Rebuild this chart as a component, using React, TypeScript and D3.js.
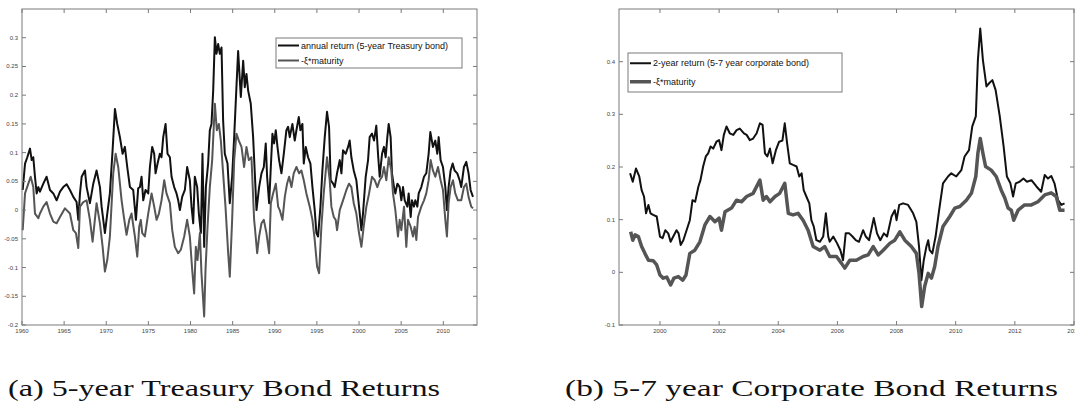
import React from 'react';
import * as d3 from 'd3';

// (a) 5-year Treasury bond, [year, value]
const tsyReturn: [number, number][] = [
  [1960.08, 0.035], [1960.36, 0.081], [1960.63, 0.092], [1960.95, 0.107], [1961.15, 0.087], [1961.34, 0.092],
  [1961.54, 0.058], [1961.74, 0.029], [1961.94, 0.04], [1962.13, 0.032], [1962.53, 0.046], [1962.92, 0.058],
  [1963.32, 0.035], [1963.72, 0.029], [1964.11, 0.017], [1964.51, 0.032], [1964.9, 0.04], [1965.3, 0.045],
  [1965.69, 0.035], [1966.09, 0.023], [1966.48, 0.014], [1966.68, -0.017], [1966.88, 0.029], [1967.08, 0.058],
  [1967.47, 0.069], [1967.67, 0.04], [1968.06, 0.012], [1968.46, 0.046], [1968.85, 0.069], [1969.25, 0.04],
  [1969.45, 0.006], [1969.84, -0.04], [1970.12, -0.006], [1970.43, 0.029], [1970.75, 0.104], [1971.03, 0.176],
  [1971.3, 0.15], [1971.62, 0.127], [1971.94, 0.098], [1972.21, 0.11], [1972.49, 0.075], [1972.81, 0.04],
  [1973.2, 0.035], [1973.52, -0.017], [1973.79, 0.038], [1973.99, 0.04], [1974.19, 0.058], [1974.39, 0.017],
  [1974.66, 0.035], [1974.98, 0.029], [1975.18, 0.075], [1975.45, 0.11], [1975.69, 0.098], [1975.85, 0.064],
  [1976.09, 0.081], [1976.36, 0.098], [1976.56, 0.092], [1976.76, 0.127], [1977.04, 0.15], [1977.27, 0.098],
  [1977.55, 0.092], [1977.75, 0.058], [1978.06, 0.04], [1978.34, 0.029], [1978.54, 0.017], [1978.74, 0],
  [1979.01, 0.023], [1979.33, 0.035], [1979.6, 0.075], [1979.92, 0.052], [1980.12, 0.006], [1980.32, -0.023],
  [1980.51, 0.058], [1980.79, 0.04], [1980.99, -0.006], [1981.23, -0.04], [1981.42, 0.098], [1981.62, -0.064],
  [1981.82, 0.04], [1982.09, 0.081], [1982.29, 0.139], [1982.49, 0.15], [1982.69, 0.208], [1982.89, 0.301],
  [1983.08, 0.272], [1983.28, 0.289], [1983.48, 0.272], [1983.68, 0.283], [1983.87, 0.156], [1984.07, 0.098],
  [1984.39, 0.081], [1984.66, 0.012], [1984.94, 0.058], [1985.18, 0.127], [1985.45, 0.214], [1985.65, 0.277],
  [1985.97, 0.197], [1986.25, 0.26], [1986.44, 0.214], [1986.64, 0.237], [1986.84, 0.208], [1987.15, 0.185],
  [1987.43, 0.127], [1987.63, 0.064], [1987.83, 0], [1988.14, 0.04], [1988.42, 0.064], [1988.7, 0.075],
  [1988.93, 0.116], [1989.09, 0.058], [1989.33, 0.012], [1989.53, 0.075], [1989.72, 0.133], [1989.92, 0.116],
  [1990.12, 0.139], [1990.32, 0.11], [1990.51, 0.087], [1990.79, 0.064], [1991.07, 0.098], [1991.38, 0.139],
  [1991.58, 0.145], [1991.78, 0.127], [1992.09, 0.15], [1992.37, 0.121], [1992.57, 0.139], [1992.85, 0.162],
  [1993.04, 0.139], [1993.28, 0.15], [1993.44, 0.081], [1993.68, 0.11], [1993.95, 0.092], [1994.23, 0.081],
  [1994.47, 0.04], [1994.74, 0], [1994.94, -0.04], [1995.14, -0.046], [1995.42, 0.006], [1995.65, 0.069],
  [1995.93, 0.127], [1996.2, 0.171], [1996.44, 0.145], [1996.64, 0.052], [1996.92, 0.046], [1997.11, 0.04],
  [1997.39, 0.064], [1997.71, 0.087], [1997.91, 0.064], [1998.1, 0.104], [1998.42, 0.098], [1998.7, 0.11],
  [1998.89, 0.121], [1999.09, 0.092], [1999.37, 0.069], [1999.68, 0.052], [2000.0, 0.006], [2000.28, -0.035],
  [2000.47, -0.006], [2000.79, 0.058], [2001.07, 0.087], [2001.26, 0.127], [2001.54, 0.133], [2001.78, 0.121],
  [2002.05, 0.147], [2002.25, 0.098], [2002.45, 0.058], [2002.73, 0.098], [2002.96, 0.11], [2003.16, 0.092],
  [2003.36, 0.127], [2003.52, 0.15], [2003.75, 0.127], [2003.91, 0.064], [2004.15, 0.04], [2004.31, 0.029],
  [2004.55, 0.046], [2004.82, 0.04], [2005.02, 0.017], [2005.22, 0.04], [2005.42, 0.017], [2005.73, 0.006],
  [2005.89, 0.029], [2006.13, -0.012], [2006.28, 0.017], [2006.52, 0.006], [2006.68, 0.017], [2006.92, 0.006],
  [2007.08, 0.029], [2007.39, 0.04], [2007.71, 0.058], [2007.98, 0.064], [2008.26, 0.098], [2008.46, 0.136],
  [2008.77, 0.11], [2009.05, 0.121], [2009.29, 0.098], [2009.45, 0.127], [2009.68, 0.087], [2009.96, 0.075],
  [2010.24, 0.04], [2010.43, 0], [2010.63, 0.04], [2010.87, 0.069], [2011.11, 0.081], [2011.34, 0.069],
  [2011.66, 0.064], [2011.94, 0.052], [2012.13, 0.04], [2012.45, 0.075], [2012.73, 0.084], [2013.0, 0.064],
  [2013.24, 0.035], [2013.52, 0.023],
];

const tsyXi: [number, number][] = [
  [1960.08, -0.035], [1960.36, 0.029], [1960.75, 0.046], [1961.03, 0.058], [1961.34, 0.04], [1961.54, -0.006],
  [1961.94, -0.014], [1962.13, -0.006], [1962.53, 0.006], [1962.92, 0.014], [1963.32, -0.006], [1963.72, -0.02],
  [1964.11, -0.023], [1964.51, -0.012], [1965.1, 0.003], [1965.69, -0.006], [1966.09, -0.035], [1966.4, -0.04],
  [1966.68, -0.066], [1966.88, 0.006], [1967.27, 0.014], [1967.67, 0.017], [1968.06, -0.017], [1968.38, -0.055],
  [1968.85, 0.012], [1969.25, -0.023], [1969.57, -0.064], [1969.84, -0.107], [1970.12, -0.087], [1970.43, -0.046],
  [1970.83, 0.064], [1971.11, 0.098], [1971.42, 0.075], [1971.82, 0.017], [1972.09, -0.012], [1972.41, -0.043],
  [1972.73, -0.017], [1973.0, -0.006], [1973.4, -0.046], [1973.68, -0.081], [1973.91, -0.029], [1974.1, -0.017],
  [1974.27, -0.04], [1974.58, -0.046], [1974.98, -0.006], [1975.38, 0.029], [1975.69, 0.006], [1975.97, -0.017],
  [1976.25, -0.006], [1976.56, 0.017], [1976.88, 0.052], [1977.15, 0.029], [1977.55, 0.012], [1977.83, -0.035],
  [1978.14, -0.064], [1978.54, -0.075], [1978.85, -0.069], [1979.25, -0.046], [1979.6, -0.017], [1979.92, -0.046],
  [1980.2, -0.104], [1980.43, -0.145], [1980.63, -0.064], [1980.83, -0.087], [1981.11, -0.04], [1981.3, -0.11],
  [1981.62, -0.185], [1981.78, -0.104], [1982.02, -0.029], [1982.29, 0.04], [1982.57, 0.087], [1982.89, 0.185],
  [1983.12, 0.139], [1983.36, 0.15], [1983.6, 0.121], [1983.87, 0.064], [1984.15, 0.006], [1984.47, -0.075],
  [1984.66, -0.116], [1984.94, -0.017], [1985.18, 0.087], [1985.45, 0.133], [1985.73, 0.121], [1986.05, 0.11],
  [1986.36, 0.075], [1986.64, 0.11], [1986.92, 0.087], [1987.23, 0.092], [1987.55, -0.017], [1987.63, -0.029],
  [1987.91, -0.075], [1988.14, -0.046], [1988.42, -0.023], [1988.7, -0.017], [1989.01, -0.04], [1989.33, -0.075],
  [1989.53, 0.012], [1989.8, 0.029], [1990.12, 0.046], [1990.4, 0.006], [1990.59, 0], [1990.91, -0.017],
  [1991.19, 0.023], [1991.46, 0.046], [1991.7, 0.058], [1991.98, 0.04], [1992.25, 0.064], [1992.57, 0.075],
  [1992.89, 0.064], [1993.16, 0.069], [1993.44, 0.052], [1993.75, 0.029], [1994.15, 0.006], [1994.47, -0.017],
  [1994.74, -0.052], [1995.02, -0.098], [1995.26, -0.11], [1995.53, -0.029], [1995.81, 0.029], [1996.2, 0.092],
  [1996.52, 0.052], [1996.72, 0.006], [1997.0, -0.012], [1997.23, -0.017], [1997.39, -0.035], [1997.71, 0],
  [1998.1, 0.017], [1998.5, 0.035], [1998.81, 0.046], [1999.09, 0.04], [1999.37, 0.012], [1999.68, -0.006],
  [2000.0, -0.04], [2000.28, -0.064], [2000.55, -0.029], [2000.87, 0.006], [2001.19, 0.029], [2001.54, 0.058],
  [2001.86, 0.052], [2002.17, 0.04], [2002.45, 0.052], [2002.73, 0.058], [2002.96, 0.075], [2003.24, 0.052],
  [2003.52, 0.092], [2003.83, 0.069], [2004.03, 0.029], [2004.31, 0], [2004.62, -0.046], [2004.82, -0.017],
  [2005.02, -0.035], [2005.34, 0.006], [2005.61, -0.064], [2005.81, -0.017], [2006.13, -0.029], [2006.4, -0.046],
  [2006.6, -0.029], [2006.8, -0.052], [2007.0, -0.012], [2007.39, 0.006], [2007.71, 0.017], [2007.98, 0.029],
  [2008.26, 0.052], [2008.5, 0.087], [2008.77, 0.069], [2009.05, 0.058], [2009.37, 0.075], [2009.68, 0.052],
  [2009.96, 0.035], [2010.24, -0.017], [2010.43, -0.046], [2010.63, 0.012], [2010.87, 0.04], [2011.15, 0.052],
  [2011.42, 0.029], [2011.74, 0.017], [2012.13, 0.017], [2012.45, 0.04], [2012.73, 0.046], [2013.0, 0.023],
  [2013.32, 0.006], [2013.52, 0.003],
];

// (b) 5-7 year corporate bond, [year, value]
const corpReturn: [number, number][] = [
  [1998.99, 0.188], [1999.08, 0.172], [1999.19, 0.197], [1999.3, 0.182], [1999.38, 0.156], [1999.46, 0.144],
  [1999.53, 0.112], [1999.61, 0.128], [1999.68, 0.112], [1999.77, 0.109], [1999.89, 0.106], [2000.0, 0.068],
  [2000.09, 0.065], [2000.18, 0.08], [2000.28, 0.074], [2000.36, 0.058], [2000.45, 0.068], [2000.56, 0.08],
  [2000.63, 0.074], [2000.7, 0.052], [2000.79, 0.061], [2000.9, 0.08], [2001.01, 0.099], [2001.1, 0.137],
  [2001.19, 0.134], [2001.3, 0.163], [2001.37, 0.175], [2001.46, 0.201], [2001.55, 0.22], [2001.63, 0.226],
  [2001.71, 0.239], [2001.8, 0.235], [2001.91, 0.248], [2002.0, 0.251], [2002.08, 0.232], [2002.16, 0.261],
  [2002.25, 0.277], [2002.36, 0.264], [2002.48, 0.261], [2002.59, 0.27], [2002.7, 0.273], [2002.84, 0.264],
  [2002.93, 0.261], [2003.04, 0.251], [2003.15, 0.254], [2003.27, 0.264], [2003.38, 0.283], [2003.47, 0.28],
  [2003.55, 0.226], [2003.63, 0.22], [2003.72, 0.235], [2003.81, 0.207], [2003.92, 0.232], [2004.03, 0.248],
  [2004.14, 0.25], [2004.22, 0.283], [2004.3, 0.245], [2004.39, 0.207], [2004.5, 0.204], [2004.62, 0.201],
  [2004.71, 0.182], [2004.79, 0.188], [2004.86, 0.156], [2004.95, 0.144], [2005.05, 0.131], [2005.12, 0.099],
  [2005.2, 0.087], [2005.29, 0.061], [2005.41, 0.058], [2005.52, 0.068], [2005.61, 0.112], [2005.69, 0.068],
  [2005.74, 0.058], [2005.86, 0.068], [2005.99, 0.055], [2006.1, 0.042], [2006.19, 0.023], [2006.28, 0.074],
  [2006.4, 0.074], [2006.51, 0.068], [2006.62, 0.061], [2006.73, 0.058], [2006.87, 0.08], [2006.96, 0.068],
  [2007.07, 0.061], [2007.23, 0.103], [2007.34, 0.074], [2007.45, 0.061], [2007.57, 0.074], [2007.68, 0.068],
  [2007.83, 0.106], [2007.94, 0.118], [2008.0, 0.099], [2008.09, 0.128], [2008.22, 0.131], [2008.39, 0.128],
  [2008.56, 0.112], [2008.67, 0.096], [2008.76, 0.049], [2008.84, -0.015], [2008.92, 0.023], [2009.01, 0.049],
  [2009.07, 0.061], [2009.12, 0.042], [2009.21, 0.036], [2009.32, 0.068], [2009.44, 0.118], [2009.57, 0.169],
  [2009.74, 0.182], [2009.85, 0.188], [2010.02, 0.182], [2010.19, 0.194], [2010.3, 0.22], [2010.45, 0.232],
  [2010.56, 0.277], [2010.68, 0.296], [2010.75, 0.403], [2010.83, 0.463], [2010.92, 0.403], [2011.04, 0.353],
  [2011.13, 0.359], [2011.24, 0.365], [2011.35, 0.346], [2011.49, 0.296], [2011.62, 0.239], [2011.73, 0.182],
  [2011.85, 0.169], [2011.94, 0.144], [2012.03, 0.169], [2012.16, 0.172], [2012.29, 0.178], [2012.41, 0.172],
  [2012.56, 0.175], [2012.73, 0.163], [2012.89, 0.153], [2013.01, 0.185], [2013.12, 0.178], [2013.23, 0.183],
  [2013.34, 0.169], [2013.46, 0.137], [2013.57, 0.128], [2013.68, 0.131],
];

const corpXi: [number, number][] = [
  [1999.01, 0.077], [1999.08, 0.061], [1999.16, 0.071], [1999.27, 0.068], [1999.38, 0.049], [1999.49, 0.036],
  [1999.61, 0.023], [1999.77, 0.022], [1999.89, 0.014], [2000.0, -0.005], [2000.11, -0.011], [2000.23, -0.009],
  [2000.36, -0.024], [2000.47, -0.011], [2000.62, -0.008], [2000.77, -0.015], [2000.88, -0.005], [2001.01, 0.036],
  [2001.18, 0.042], [2001.35, 0.058], [2001.52, 0.09], [2001.69, 0.106], [2001.86, 0.096], [2002.0, 0.103],
  [2002.08, 0.08], [2002.2, 0.115], [2002.42, 0.122], [2002.59, 0.137], [2002.76, 0.134], [2002.93, 0.144],
  [2003.15, 0.15], [2003.38, 0.175], [2003.49, 0.137], [2003.6, 0.144], [2003.72, 0.134], [2003.89, 0.144],
  [2004.05, 0.15], [2004.22, 0.169], [2004.34, 0.112], [2004.5, 0.109], [2004.67, 0.112], [2004.84, 0.099],
  [2005.01, 0.08], [2005.18, 0.049], [2005.41, 0.042], [2005.57, 0.049], [2005.74, 0.03], [2005.97, 0.03],
  [2006.14, 0.017], [2006.25, 0.008], [2006.42, 0.023], [2006.64, 0.023], [2006.87, 0.03], [2007.04, 0.033],
  [2007.21, 0.049], [2007.38, 0.033], [2007.55, 0.042], [2007.77, 0.055], [2007.94, 0.061], [2008.11, 0.077],
  [2008.28, 0.061], [2008.5, 0.049], [2008.67, 0.036], [2008.76, -0.002], [2008.85, -0.065], [2008.95, -0.027],
  [2009.07, -0.002], [2009.18, -0.011], [2009.29, 0.011], [2009.4, 0.049], [2009.57, 0.087], [2009.8, 0.106],
  [2009.97, 0.122], [2010.14, 0.125], [2010.36, 0.137], [2010.53, 0.15], [2010.68, 0.182], [2010.75, 0.226],
  [2010.83, 0.254], [2010.92, 0.226], [2011.01, 0.201], [2011.2, 0.194], [2011.37, 0.182], [2011.54, 0.156],
  [2011.66, 0.141], [2011.77, 0.122], [2011.88, 0.118], [2011.96, 0.099], [2012.11, 0.118], [2012.33, 0.128],
  [2012.56, 0.128], [2012.78, 0.134], [2013.01, 0.147], [2013.23, 0.151], [2013.4, 0.144], [2013.52, 0.118],
  [2013.68, 0.118],
];

const tsyYTicks = [-0.2, -0.15, -0.1, -0.05, 0, 0.05, 0.1, 0.15, 0.2, 0.25, 0.3];
const tsyXTicks = [1960, 1965, 1970, 1975, 1980, 1985, 1990, 1995, 2000, 2005, 2010];
const corpYTicks = [-0.1, 0, 0.1, 0.2, 0.3, 0.4];
const corpXTicks = [2000, 2002, 2004, 2006, 2008, 2010, 2012, 2014];

const BLACK = '#111';
const GRAY = '#555';
const AXIS = '#7a7a7a';

type PanelProps = {
  x0: number; x1: number; y0: number; y1: number;
  xDomain: [number, number]; yDomain: [number, number];
  xTicks: number[]; yTicks: number[];
  black: [number, number][]; gray: [number, number][];
  blackWidth: number; grayWidth: number;
  legend: { x: number; y: number; w: number; h: number; labels: string[]; rowGap: number; sample: number };
};

function Panel(p: PanelProps) {
  const x = d3.scaleLinear().domain(p.xDomain).range([p.x0, p.x1]);
  const y = d3.scaleLinear().domain(p.yDomain).range([p.y1, p.y0]);
  const line = d3.line<[number, number]>().x(d => x(d[0])).y(d => y(d[1]));
  const fmt = (v: number) => String(+v.toFixed(2));
  const tl = 4;
  const lg = p.legend;
  const row1 = lg.y + lg.h / 2 - lg.rowGap / 2;
  return (
    <g>
      <rect x={p.x0} y={p.y0} width={p.x1 - p.x0} height={p.y1 - p.y0} fill="#fff" />
      <path d={line(p.black) || ''} fill="none" stroke={BLACK} strokeWidth={p.blackWidth} strokeLinejoin="round" />
      <path d={line(p.gray) || ''} fill="none" stroke={GRAY} strokeWidth={p.grayWidth} strokeLinejoin="round" />
      <rect x={p.x0} y={p.y0} width={p.x1 - p.x0} height={p.y1 - p.y0} fill="none" stroke={AXIS} strokeWidth={1} />
      {p.xTicks.map(t => (
        <g key={'x' + t}>
          <line x1={x(t)} x2={x(t)} y1={p.y1} y2={p.y1 - tl} stroke={AXIS} />
          <line x1={x(t)} x2={x(t)} y1={p.y0} y2={p.y0 + tl} stroke={AXIS} />
          <text x={x(t)} y={p.y1 + 8} fontSize={6} textAnchor="middle" fill="#444" fontFamily="Liberation Sans, Arial, sans-serif">{t}</text>
        </g>
      ))}
      {p.yTicks.map(t => (
        <g key={'y' + t}>
          <line x1={p.x0} x2={p.x0 + tl} y1={y(t)} y2={y(t)} stroke={AXIS} />
          <line x1={p.x1} x2={p.x1 - tl} y1={y(t)} y2={y(t)} stroke={AXIS} />
          <text x={p.x0 - 4} y={y(t) + 2} fontSize={6} textAnchor="end" fill="#444" fontFamily="Liberation Sans, Arial, sans-serif">{fmt(t)}</text>
        </g>
      ))}
      <rect x={lg.x} y={lg.y} width={lg.w} height={lg.h} fill="#fff" stroke={AXIS} strokeWidth={1} />
      {lg.labels.map((lab, i) => {
        const yy = row1 + i * lg.rowGap;
        return (
          <g key={lab}>
            <line x1={lg.x + 2} x2={lg.x + 2 + lg.sample} y1={yy} y2={yy} stroke={i === 0 ? BLACK : GRAY} strokeWidth={i === 0 ? p.blackWidth : p.grayWidth} />
            <text x={lg.x + 4 + lg.sample} y={yy + 3.2} fontSize={9} fill="#111" fontFamily="Liberation Sans, Arial, sans-serif">{lab}</text>
          </g>
        );
      })}
    </g>
  );
}

export default function App() {
  return (
    <svg width={1075} height={411} style={{ display: 'block', position: 'absolute', left: 0, top: 0 }}>
      <rect width={1075} height={411} fill="#fff" />
      <Panel x0={22} x1={477} y0={9} y1={325} xDomain={[1960, 2014]} yDomain={[-0.2, 0.35]}
        xTicks={tsyXTicks} yTicks={tsyYTicks} black={tsyReturn} gray={tsyXi} blackWidth={2} grayWidth={2}
        legend={{ x: 276, y: 38, w: 186, h: 30, labels: ['annual return (5-year Treasury bond)', '-\u03BE*maturity'], rowGap: 15, sample: 21 }} />
      <Panel x0={619} x1={1074} y0={9} y1={325} xDomain={[1998.615, 2014]} yDomain={[-0.1, 0.5]}
        xTicks={corpXTicks} yTicks={corpYTicks} black={corpReturn} gray={corpXi} blackWidth={2} grayWidth={3.5}
        legend={{ x: 628, y: 53, w: 214, h: 39, labels: ['2-year return (5-7 year corporate bond)', '-\u03BE*maturity'], rowGap: 18.5, sample: 21 }} />
      <text x={8} y={396} fontSize={24} fontFamily="Liberation Serif, serif" fill="#111" textLength={432} lengthAdjust="spacingAndGlyphs">(a) 5-year Treasury Bond Returns</text>
      <text x={565} y={396} fontSize={24} fontFamily="Liberation Serif, serif" fill="#111" textLength={493} lengthAdjust="spacingAndGlyphs">(b) 5-7 year Corporate Bond Returns</text>
    </svg>
  );
}
